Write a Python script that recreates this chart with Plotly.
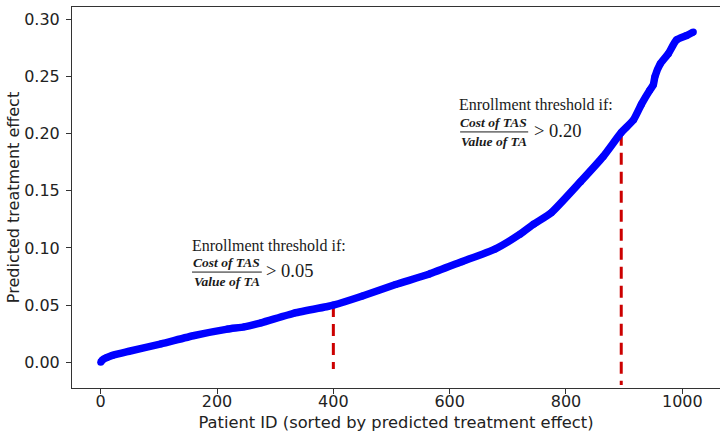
import plotly.graph_objects as go

# ---- data ----
patient_id = [0, 3, 10, 20, 47, 104, 161, 218, 247, 276, 333, 390, 400, 450,
              507, 564, 621, 678, 721, 745, 775, 825, 864, 895, 916, 930,
              944, 950, 953, 962, 976, 990, 1008, 1019]
effect = [0.000, 0.002, 0.004, 0.006, 0.0094, 0.0161, 0.0234, 0.029, 0.031,
          0.0345, 0.043, 0.0488, 0.050, 0.058, 0.068, 0.077, 0.088, 0.099,
          0.112, 0.121, 0.131, 0.158, 0.180, 0.201, 0.212, 0.226, 0.238,
          0.2425, 0.250, 0.261, 0.270, 0.282, 0.286, 0.289]

threshold_x = [400, 895]
threshold_y = [0.05, 0.20]
threshold_bottom = [-0.006, -0.02]
threshold_labels = ["> 0.05", "> 0.20"]

x_ticks = [0, 200, 400, 600, 800, 1000]
y_ticks = [0.00, 0.05, 0.10, 0.15, 0.20, 0.25, 0.30]

title_text = "Enrollment threshold if:"
numerator = "Cost of TAS"
denominator = "Value of TA"

fig = go.Figure()

# red dashed threshold lines (drawn top-down so the dash pattern starts at the curve)
for tx, ty, tb in zip(threshold_x, threshold_y, threshold_bottom):
    fig.add_trace(go.Scatter(
        x=[tx, tx], y=[ty, tb], mode="lines",
        line=dict(color="#cc0000", width=3, dash="12px,7px"),
        showlegend=False, hoverinfo="skip"))

# the sorted predicted-effect curve
fig.add_trace(go.Scatter(
    x=patient_id, y=effect, mode="lines+markers",
    line=dict(color="#0000ff", width=7.5, shape="spline", smoothing=0.5),
    marker=dict(color="#0000ff", size=7),
    showlegend=False))

# annotation geometry (data coords) for each threshold
ann_specs = [
    dict(tx=153.7, ty=0.1022, fx=217.0, num_y=0.0872, bar_y=0.0789,
         den_y=0.0707, bar_x0=157.0, bar_x1=277.0, gx=281.0, gy=0.0795),
    dict(tx=612.0, ty=0.2257, fx=676.0, num_y=0.2099, bar_y=0.2015,
         den_y=0.1934, bar_x0=618.0, bar_x1=735.0, gx=741.0, gy=0.2021),
]

serif = "Liberation Serif"
for spec, lab in zip(ann_specs, threshold_labels):
    fig.add_annotation(x=spec["tx"], y=spec["ty"], text=title_text,
                       showarrow=False, xanchor="left", yanchor="middle",
                       font=dict(family=serif, size=16, color="#1a1a1a"))
    fig.add_annotation(x=spec["fx"], y=spec["num_y"],
                       text="<b><i>" + numerator + "</i></b>",
                       showarrow=False, xanchor="center", yanchor="middle",
                       font=dict(family=serif, size=13.5, color="#1a1a1a"))
    fig.add_annotation(x=spec["fx"], y=spec["den_y"],
                       text="<b><i>" + denominator + "</i></b>",
                       showarrow=False, xanchor="center", yanchor="middle",
                       font=dict(family=serif, size=13.5, color="#1a1a1a"))
    fig.add_shape(type="line", x0=spec["bar_x0"], x1=spec["bar_x1"],
                  y0=spec["bar_y"], y1=spec["bar_y"],
                  line=dict(color="#1a1a1a", width=1))
    fig.add_annotation(x=spec["gx"], y=spec["gy"], text=lab,
                       showarrow=False, xanchor="left", yanchor="middle",
                       font=dict(family=serif, size=18.5, color="#1a1a1a"))

axis_font = dict(family="DejaVu Sans", size=16, color="#222222")

fig.update_xaxes(
    range=[-49.35, 1064.8], tickvals=x_ticks,
    ticktext=[str(v) for v in x_ticks],
    showgrid=False, zeroline=False,
    showline=True, mirror=True, linecolor="#333333", linewidth=1,
    ticks="outside", ticklen=5, tickcolor="#333333",
    tickfont=axis_font, ticklabelstandoff=-6,
    title=dict(text="Patient ID (sorted by predicted treatment effect)",
               font=dict(family="DejaVu Sans", size=16.3, color="#222222"),
               standoff=6))
fig.update_yaxes(
    range=[-0.02252, 0.3108], tickvals=y_ticks,
    ticktext=["%.2f" % v for v in y_ticks],
    showgrid=False, zeroline=False,
    showline=True, mirror=False, linecolor="#333333", linewidth=1,
    ticks="outside", ticklen=5, tickcolor="#333333",
    tickfont=axis_font, ticklabelstandoff=3,
    title=dict(text="Predicted treatment effect", font=axis_font, standoff=0))

fig.update_layout(
    width=720, height=432,
    margin=dict(l=72, r=0, t=7, b=44),
    paper_bgcolor="white", plot_bgcolor="white",
    showlegend=False)

fig.write_html("out.html")
